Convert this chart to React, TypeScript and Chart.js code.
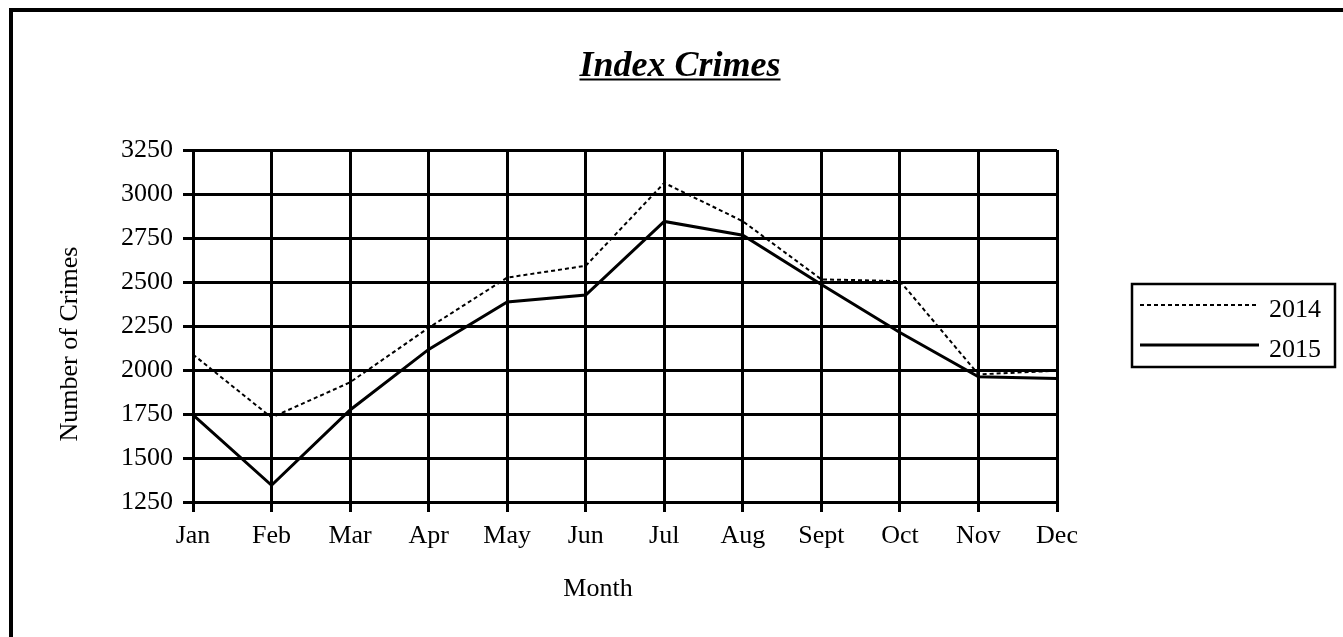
import React, { useEffect, useRef } from "react";
import { Chart, registerables } from "chart.js";

Chart.register(...registerables);

const months = ["Jan", "Feb", "Mar", "Apr", "May", "Jun", "Jul", "Aug", "Sept", "Oct", "Nov", "Dec"];
const crimes2014 = [2088, 1730, 1930, 2240, 2525, 2592, 3063, 2845, 2515, 2505, 1975, 1996];
const crimes2015 = [1745, 1345, 1773, 2117, 2386, 2426, 2844, 2766, 2486, 2213, 1961, 1951];
const seriesLabels = ["2014", "2015"];
const yMin = 1250;
const yMax = 3250;
const yStep = 250;
const chartTitle = "Index Crimes";
const xTitle = "Month";
const yTitle = "Number of Crimes";

const FONT = '"Liberation Serif", "Times New Roman", serif';
const W = 1343;
const H = 637;

const decor = {
  id: "decor",
  beforeDraw(chart: any) {
    const ctx = chart.ctx;
    ctx.save();
    ctx.fillStyle = "#fff";
    ctx.fillRect(0, 0, chart.width, chart.height);
    ctx.strokeStyle = "#000";
    ctx.lineWidth = 4;
    ctx.strokeRect(11, 10, chart.width + 50, chart.height + 50);
    ctx.restore();
  },
  afterDraw(chart: any) {
    const ctx = chart.ctx;
    ctx.save();
    ctx.fillStyle = "#000";
    ctx.strokeStyle = "#000";
    // title
    ctx.font = `italic bold 36px ${FONT}`;
    ctx.textAlign = "center";
    ctx.textBaseline = "alphabetic";
    ctx.fillText(chartTitle, 680, 76);
    const tw = ctx.measureText(chartTitle).width;
    ctx.fillRect(680 - tw / 2, 78.5, tw, 2);
    // axis titles
    ctx.font = `26px ${FONT}`;
    ctx.fillText(xTitle, 598, 596);
    ctx.save();
    ctx.translate(77, 344);
    ctx.rotate(-Math.PI / 2);
    ctx.fillText(yTitle, 0, 0);
    ctx.restore();
    // legend
    ctx.lineWidth = 2.5;
    ctx.setLineDash([]);
    ctx.strokeRect(1132, 284, 203, 83);
    ctx.textAlign = "left";
    chart.data.datasets.forEach((ds: any, i: number) => {
      const y = 305 + i * 40;
      ctx.save();
      ctx.lineWidth = ds.borderWidth;
      ctx.setLineDash(ds.borderDash || []);
      ctx.beginPath();
      ctx.moveTo(1140, y);
      ctx.lineTo(1259, y);
      ctx.stroke();
      ctx.restore();
      ctx.fillText(ds.label, 1269, y + 12);
    });
    ctx.restore();
  },
};

export default function App() {
  const ref = useRef<HTMLCanvasElement | null>(null);
  useEffect(() => {
    if (!ref.current) return;
    Chart.defaults.font.family = FONT;
    Chart.defaults.font.size = 26;
    Chart.defaults.color = "#000";
    const chart = new Chart(ref.current, {
      type: "line",
      data: {
        labels: months,
        datasets: [
          {
            label: seriesLabels[0],
            data: crimes2014,
            borderColor: "#000",
            borderWidth: 2,
            borderDash: [4, 3],
            pointRadius: 0,
            tension: 0,
            fill: false,
          },
          {
            label: seriesLabels[1],
            data: crimes2015,
            borderColor: "#000",
            borderWidth: 3,
            pointRadius: 0,
            tension: 0,
            fill: false,
          },
        ],
      },
      options: {
        responsive: false,
        animation: false,
        layout: { padding: { top: 150, left: 0, right: W - 1057, bottom: 0 } },
        plugins: {
          legend: { display: false },
          title: { display: false },
          tooltip: { enabled: false },
        },
        scales: {
          x: {
            offset: false,
            grid: { color: "#000", lineWidth: 3, tickLength: 10, offset: false },
            border: { color: "#000", width: 3 },
            ticks: { maxRotation: 0, autoSkip: false, padding: 9, font: { size: 26 } },
            afterFit: (s: any) => {
              s.height = H - 502;
            },
          },
          y: {
            min: yMin,
            max: yMax,
            grid: { color: "#000", lineWidth: 3, tickLength: 10 },
            border: { color: "#000", width: 3 },
            ticks: {
              stepSize: yStep,
              padding: 10,
              font: { size: 26 },
              callback: (v: any) => String(v),
            },
            afterFit: (s: any) => {
              s.width = 193;
            },
          },
        },
      },
      plugins: [decor],
    });
    return () => chart.destroy();
  }, []);
  return (
    <div style={{ position: "fixed", left: 0, top: 0, width: W, height: H, background: "#fff", overflow: "hidden" }}>
      <canvas ref={ref} width={W} height={H} style={{ display: "block", width: W, height: H }} />
    </div>
  );
}
